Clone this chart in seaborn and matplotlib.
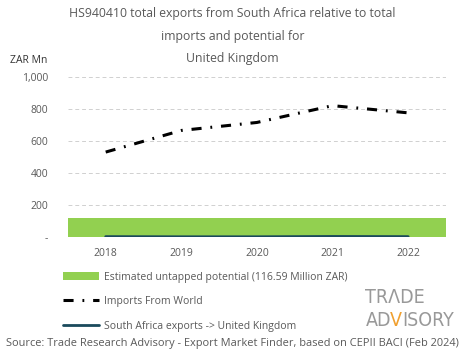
import numpy as np
import pandas as pd
import seaborn as sns
import matplotlib.pyplot as plt
from matplotlib.patches import Patch
from matplotlib.lines import Line2D

years = ['2018', '2019', '2020', '2021', '2022']
imports_world = [530, 665, 715, 820, 775]
sa_exports = [2, 1, 1, 3, 2]
potential = 116.59

title = ('HS940410 total exports from South Africa relative to total\n'
         'imports and potential for\nUnited Kingdom')
source = 'Source: Trade Research Advisory - Export Market Finder, based on CEPII BACI (Feb 2024)'

grey = '#595959'
green = '#92d050'
teal = '#1a4a5c'
dashdot = (0, (3.3, 2.9, 0.6, 2.9))

sns.set_style('white')
plt.rcParams['font.family'] = ['Open Sans', 'DejaVu Sans']

df = pd.DataFrame({'year': years, 'imports': imports_world, 'sa': sa_exports})

fig = plt.figure(figsize=(4.65, 3.59), dpi=100)
ax = fig.add_axes([0.146, 0.34, 0.813, 0.446])

ax.axhspan(0, potential, color=green, zorder=1, lw=0)
sns.lineplot(data=df, x='year', y='imports', ax=ax, color='black', lw=2.2,
             linestyle=dashdot, zorder=3)
sns.lineplot(data=df, x='year', y='sa', ax=ax, color=teal, lw=2, zorder=3)

ax.set_xlim(-0.5, 4.5)
ax.set_ylim(0, 1000)
ax.set_yticks([0, 200, 400, 600, 800, 1000])
ax.set_yticklabels(['-', '200', '400', '600', '800', '1,000'])
for y in [200, 400, 600, 800, 1000]:
    ax.axhline(y, color='#d0d0d0', lw=0.7, ls=(0, (4, 3)), zorder=0)
ax.set_xlabel('')
ax.set_ylabel('')
ax.tick_params(axis='both', colors=grey, labelsize=7.5, length=0, pad=8)
ax.tick_params(axis='y', pad=14)
for s in ax.spines.values():
    s.set_visible(False)

fig.text(0.5, 0.98, title, ha='center', va='top', fontsize=8.8, color=grey,
         linespacing=1.95)
fig.text(0.022, 0.832, 'ZAR Mn', fontsize=7.5, color='#333333', va='center')

handles = [Patch(facecolor=green, edgecolor='none'),
           Line2D([], [], color='black', lw=2.2, linestyle=dashdot),
           Line2D([], [], color=teal, lw=2)]
labels = ['Estimated untapped potential (116.59 Million ZAR)',
          'Imports From World', 'South Africa exports -> United Kingdom']
fig.legend(handles, labels, loc='upper left', bbox_to_anchor=(0.125, 0.258),
           frameon=False, fontsize=7.5, labelcolor=grey, handlelength=3.4,
           handleheight=0.9, labelspacing=1.3, handletextpad=0.5, borderpad=0)

fig.text(0.5, 0.042, source, ha='center', va='center', fontsize=7.9, color=grey)

logo = dict(fontsize=14, va='center', family='DejaVu Sans',
            fontstretch='condensed', fontweight='light')
fig.text(0.786, 0.172, 'TR\u039bDE', ha='left', color='#999999', **logo)
fig.text(0.786, 0.108, 'AD', ha='left', color='#999999', **logo)
fig.text(0.838, 0.108, 'V', ha='left', color='#f0a030', **logo)
fig.text(0.866, 0.108, 'ISORY', ha='left', color='#999999', **logo)

fig.savefig('out.png', dpi=100)
